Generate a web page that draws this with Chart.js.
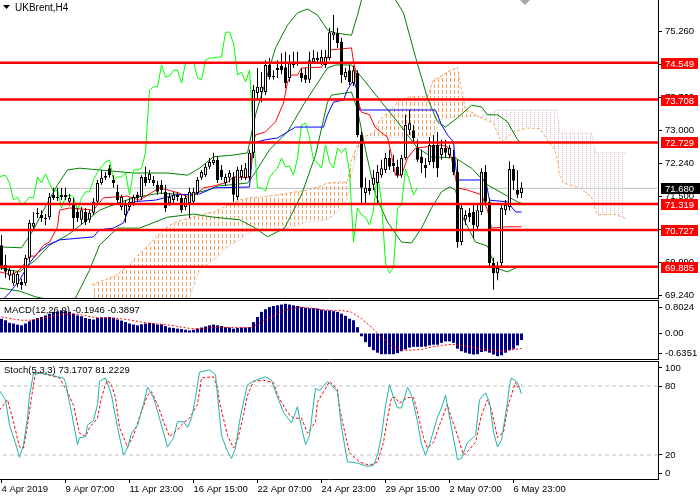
<!DOCTYPE html>
<html>
<head>
<meta charset="utf-8">
<title>UKBrent, H4</title>
<script src="https://cdn.jsdelivr.net/npm/chart.js@4.4.1/dist/chart.umd.min.js"></script>
<style>
  html, body { margin: 0; padding: 0; background: #fff; }
  #board { position: relative; width: 700px; height: 500px; overflow: hidden; background: #fff; }
  #board canvas { position: absolute; left: 0; }
</style>
</head>
<body>
<div id="board">
  <canvas id="priceChart" width="700" height="300" style="top:0"></canvas>
  <canvas id="macdChart" width="700" height="61" style="top:300px"></canvas>
  <canvas id="stochChart" width="700" height="139" style="top:361px"></canvas>
</div>
<script>
// ---- data (bar index 0 = first visible candle) ----
const symbolTitle = 'UKBrent,H4';

const opens = [70.38, 69.93, 69.68, 69.51, 69.49, 69.54, 69.51, 70.09, 70.80, 71.12,
  71.07, 71.00, 71.02, 71.53, 71.48, 71.53, 71.53, 71.37, 71.30, 71.14,
  70.96, 71.14, 70.96, 71.12, 71.37, 71.80, 71.92, 72.14, 71.87, 71.60,
  71.25, 71.07, 71.25, 71.34, 71.53, 71.48, 71.94, 71.87, 71.87, 71.76,
  71.76, 71.60, 71.34, 71.41, 71.53, 71.46, 71.25, 71.34, 71.37, 71.57,
  71.92, 71.98, 72.17, 72.26, 72.33, 72.10, 71.80, 71.92, 71.94, 71.48,
  71.94, 71.92, 71.94, 72.49, 73.86, 73.88, 73.88, 74.50, 74.22, 74.43,
  74.48, 74.45, 74.20, 74.50, 74.54, 74.32, 74.27, 74.16, 74.57, 74.61,
  74.54, 74.50, 74.66, 75.18, 75.23, 75.03, 74.22, 74.38, 74.09, 74.32,
  72.90, 71.57, 71.69, 71.76, 71.80, 71.98, 72.10, 72.37, 72.26, 72.17,
  71.98, 72.37, 73.01, 73.01, 72.60, 72.40, 72.21, 72.28, 72.67, 72.67,
  72.44, 72.60, 72.44, 72.40, 72.05, 70.45, 70.96, 71.12, 71.14, 70.80,
  71.14, 72.05, 71.37, 69.97, 69.74, 69.97, 71.18, 71.25, 72.12, 71.64,
  71.57];
const highs = [70.61, 70.16, 69.90, 69.81, 69.77, 69.61, 70.16, 70.96, 71.14, 71.23,
  71.18, 71.09, 71.57, 71.69, 71.69, 71.69, 71.69, 71.55, 71.46, 71.23,
  71.25, 71.23, 71.18, 71.46, 71.87, 72.10, 72.05, 72.21, 71.98, 71.76,
  71.53, 71.41, 71.46, 71.53, 71.60, 71.98, 72.17, 72.10, 71.96, 71.85,
  71.87, 71.76, 71.57, 71.60, 71.60, 71.53, 71.53, 71.69, 71.69, 71.94,
  72.10, 72.24, 72.37, 72.49, 72.42, 72.21, 72.01, 72.10, 72.05, 72.17,
  72.21, 72.26, 72.56, 74.04, 74.43, 74.34, 74.61, 74.66, 74.38, 74.61,
  74.77, 74.80, 74.73, 74.80, 74.80, 74.43, 74.43, 74.80, 74.84, 74.80,
  74.84, 74.84, 75.35, 75.64, 75.35, 75.12, 74.43, 74.50, 74.48, 74.38,
  72.97, 71.92, 71.87, 72.10, 72.21, 72.33, 72.49, 72.56, 72.44, 72.33,
  72.44, 73.36, 73.47, 73.13, 72.79, 72.56, 72.37, 72.85, 72.90, 72.97,
  72.79, 72.79, 72.67, 72.56, 72.33, 71.30, 71.18, 71.23, 71.30, 71.30,
  72.14, 72.21, 71.46, 70.09, 70.00, 71.30, 71.41, 72.30, 72.21, 72.10,
  71.82];
const lows = [69.81, 69.63, 69.58, 69.45, 69.42, 69.36, 69.45, 70.00, 70.73, 71.00,
  70.91, 70.84, 70.96, 71.41, 71.39, 71.41, 71.41, 71.28, 70.73, 70.91,
  70.86, 70.84, 70.89, 71.07, 71.30, 71.76, 71.87, 71.92, 71.69, 71.34,
  71.18, 70.89, 71.18, 71.28, 71.37, 71.41, 71.73, 71.80, 71.73, 71.53,
  71.55, 71.14, 71.28, 71.32, 71.39, 71.12, 71.18, 71.00, 71.30, 71.53,
  71.87, 71.94, 72.12, 72.21, 71.80, 71.87, 71.73, 71.82, 71.37, 71.41,
  71.87, 71.87, 71.87, 72.37, 73.70, 73.65, 73.81, 74.16, 74.16, 74.20,
  74.29, 73.97, 74.11, 74.43, 74.48, 74.11, 74.09, 74.09, 74.52, 74.57,
  74.50, 74.43, 74.61, 75.07, 74.89, 74.09, 74.16, 74.04, 74.02, 72.85,
  71.34, 71.34, 71.53, 71.64, 71.30, 71.92, 72.03, 72.10, 72.05, 71.92,
  71.92, 72.33, 72.90, 72.74, 72.28, 72.03, 71.92, 72.21, 72.14, 71.94,
  72.33, 72.37, 72.37, 71.98, 70.32, 70.38, 70.84, 70.91, 70.54, 70.73,
  71.07, 71.28, 69.86, 69.36, 69.58, 69.90, 71.07, 71.18, 71.64, 71.46,
  71.46];
const closes = [69.88, 69.77, 69.81, 69.74, 69.72, 69.47, 70.09, 70.89, 70.89, 71.09,
  71.00, 70.98, 71.48, 71.46, 71.46, 71.48, 71.48, 71.46, 71.00, 71.00,
  71.18, 70.91, 71.12, 71.37, 71.80, 71.92, 71.96, 71.98, 71.80, 71.41,
  71.48, 71.30, 71.37, 71.48, 71.46, 71.94, 71.80, 72.01, 71.80, 71.60,
  71.64, 71.23, 71.48, 71.53, 71.48, 71.18, 71.46, 71.60, 71.60, 71.87,
  72.05, 72.17, 72.28, 72.33, 71.87, 71.94, 71.94, 72.03, 71.53, 72.10,
  72.10, 72.14, 72.49, 73.93, 74.00, 74.00, 74.50, 74.22, 74.25, 74.38,
  74.38, 74.09, 74.54, 74.54, 74.57, 74.20, 74.16, 74.61, 74.66, 74.66,
  74.68, 74.68, 75.25, 75.25, 75.00, 74.27, 74.34, 74.11, 74.38, 72.90,
  71.69, 71.69, 71.62, 71.92, 72.05, 72.14, 72.37, 72.17, 72.19, 71.98,
  72.37, 73.13, 73.17, 72.83, 72.33, 72.26, 72.14, 72.67, 72.28, 72.14,
  72.60, 72.49, 72.60, 72.05, 70.45, 71.23, 71.07, 71.02, 70.84, 71.18,
  72.05, 71.37, 69.97, 69.74, 69.86, 71.23, 71.30, 72.12, 71.85, 71.53,
  71.69];

// Bollinger bands, [bar, price]
const bbUpper = [[-0.5, 70.34], [5, 70.32], [8, 70.73], [10.5, 71.18], [14, 71.76], [16.5, 72.10], [19.5, 72.14],
  [24.5, 72.10], [33, 72.03], [41.5, 72.03], [46.5, 71.98], [49.5, 72.14], [53, 72.40], [58, 72.44], [61.5, 72.49],
  [63.5, 73.36], [68.5, 74.89], [71.5, 75.41], [74, 75.69], [76.5, 75.78], [79, 75.64], [81.5, 75.30], [83.5, 75.23],
  [87.5, 75.18], [89, 75.64], [90, 75.99], [94, 76.60], [98.5, 75.99], [100.5, 75.69], [103.5, 74.68], [106.5, 73.74],
  [109, 73.20], [111, 73.08], [114, 73.29], [117.5, 73.58], [120, 73.54], [121.5, 73.36], [124, 73.36], [126.5, 73.20],
  [129, 72.79], [130, 72.72]];
const bbMiddle = [[-0.5, 69.86], [4.5, 69.77], [8.5, 70.04], [12, 70.38], [16.5, 70.61], [20.5, 70.89], [24.5, 71.18],
  [29, 71.34], [33, 71.46], [39.5, 71.57], [46.5, 71.53], [51.5, 71.64], [54, 71.73], [61.5, 71.80], [63.5, 72.05],
  [67, 72.56], [71.5, 72.97], [75.75, 73.63], [81.5, 74.43], [83.5, 74.50], [87.5, 74.50], [91, 74.11], [95, 73.65],
  [99, 73.20], [104, 72.60], [107.5, 72.40], [113.5, 72.37], [117.5, 72.14], [121.5, 71.76], [129, 71.37], [130, 71.34]];
const bbLower = [[-0.5, 69.40], [4.5, 69.33], [8.5, 69.20], [13.5, 69.10], [18.5, 69.17], [22, 69.81], [24.5, 70.38],
  [29, 70.77], [34.5, 70.77], [41.5, 71.02], [48, 71.09], [53, 71.02], [59.5, 70.96], [63.5, 70.77], [66.5, 70.57],
  [70.75, 70.77], [75, 71.53], [78.5, 72.44], [81.5, 73.65], [82.5, 73.81], [87.5, 73.88], [89, 73.47], [91, 72.56],
  [93.5, 71.53], [96.5, 70.91], [100, 70.45], [102.5, 70.43], [105, 70.77], [107.5, 71.23], [110, 71.60], [112, 71.71],
  [113.5, 71.64], [115, 71.07], [118.5, 70.45], [121.5, 70.36], [123.5, 69.86], [126.5, 69.77], [129, 69.88], [130, 69.90]];

// Ichimoku lines, [bar, price]
const tenkan = [[-0.5, 69.77], [2.5, 69.70], [4.5, 69.81], [6, 69.99], [7, 70.13], [8.5, 70.13], [10.5, 70.38], [12, 70.45],
  [14, 70.80], [14.5, 71.18], [17, 71.23], [23, 71.18], [24, 71.30], [25.5, 71.46], [28, 71.48], [31.5, 71.50], [34.5, 71.41],
  [39.5, 71.69], [44.5, 71.57], [46.5, 71.48], [49, 71.57], [50.5, 71.69], [53, 71.73], [56.5, 71.82], [58, 71.94], [62, 71.92],
  [63, 72.75], [63.5, 72.90], [66, 72.97], [68.5, 73.20], [70.5, 73.63], [71.5, 74.11], [72.5, 74.27], [74, 74.27], [75, 74.43],
  [80, 74.45], [81.5, 74.66], [82, 74.84], [87.5, 74.89], [88, 74.57], [88.5, 74.38], [89, 73.70], [90, 73.42], [92, 73.36],
  [93.5, 73.06], [96.5, 72.85], [97.5, 72.44], [98.5, 71.98], [100, 71.98], [101.5, 72.37], [103.5, 72.60], [106.5, 72.63],
  [110, 72.67], [111.5, 72.63], [112.5, 72.37], [114, 71.69], [116.5, 71.64], [120, 71.53], [121.5, 71.18], [122.5, 70.77],
  [126.5, 70.80], [130, 70.80]];
const kijun = [[-0.5, 69.05], [2, 69.29], [4.5, 69.58], [7, 69.97], [9, 70.20], [11.5, 70.38], [14.5, 70.50], [23, 70.57],
  [24.5, 70.73], [28, 70.77], [30.5, 70.89], [32.5, 71.37], [38.5, 71.41], [43.5, 71.53], [49.5, 71.55], [53, 71.69],
  [62, 71.71], [63, 72.72], [66, 72.79], [69, 72.83], [73.5, 73.08], [80.5, 73.08], [81.5, 73.36], [83, 73.65], [85.5, 73.70],
  [86.5, 73.93], [88, 74.16], [89, 73.88], [89.5, 73.47], [108.5, 73.47], [110, 73.13], [111.5, 72.90], [113, 72.74],
  [113.5, 72.21], [114, 71.87], [121, 71.87], [122, 71.41], [126.5, 71.37], [128.5, 71.14], [130, 71.14]];
const chikouShift = 26;

// Kumo: span A / span B sampled at the same bars
const cloudBars = [22.5, 24.5, 28.5, 31, 33.5, 36, 38.5, 41, 43.5, 47, 49.5, 53, 56.5, 59.5, 62, 65.5, 71.5, 76.5, 79, 81.5,
  84.5, 86.5, 87.5, 89, 90.5, 93, 94.5, 98, 99.5, 102, 106.5, 108, 109.5, 111.5, 114, 114.5, 115.5, 116, 118, 119.5,
  123, 124, 125, 126.5, 128, 131.5, 134.5, 136.5, 138, 139, 139.5, 140.5, 144.5, 147.5, 148.5, 149, 153, 156];
const spanA = [69.47, 69.54, 69.68, 69.86, 70.09, 70.32, 70.54, 70.77, 70.91, 71.00, 71.07, 71.14, 71.28, 71.41, 71.46,
  71.48, 71.57, 71.64, 71.71, 71.80, 71.82, 71.82, 72.33, 72.67, 72.85, 72.94, 73.24, 73.54, 73.70, 73.77, 73.77, 74.16,
  74.22, 74.34, 74.45, 74.16, 73.70, 73.47, 73.40, 73.31, 73.17, 72.94, 72.74, 72.85, 72.97, 73.06, 73.04, 72.79, 72.63,
  72.33, 71.98, 71.80, 71.69, 71.48, 71.18, 71.07, 71.09, 71.00];
const spanB = [69.01, 68.90, 68.78, 68.71, 68.71, 68.71, 68.78, 68.90, 69.01, 69.17, 69.81, 70.04, 70.34, 70.50, 70.68,
  70.73, 70.77, 70.91, 70.93, 70.96, 71.18, 71.46, 71.98, 72.56, 72.79, 72.85, 72.85, 72.85, 72.85, 72.85, 72.85, 72.85,
  73.24, 73.29, 73.31, 73.31, 73.31, 73.31, 73.33, 73.31, 73.42, 73.47, 73.47, 73.47, 73.47, 73.47, 73.47, 73.47, 73.47,
  73.47, 72.94, 72.94, 72.94, 72.94, 72.49, 72.49, 72.49, 72.49];

// horizontal levels and current price
const levels = [74.549, 73.708, 72.729, 71.319, 70.727, 69.885];
const lastPrice = 71.680;
const priceTicks = [75.26, 74.52, 73.76, 73.00, 72.24, 71.50, 70.74, 69.99, 69.24];

// MACD(12,26,9)
const macdHist = [0.39, 0.35, 0.28, 0.26, 0.23, 0.21, 0.26, 0.32, 0.37, 0.41,
  0.44, 0.48, 0.53, 0.58, 0.59, 0.62, 0.60, 0.58, 0.53, 0.48,
  0.46, 0.41, 0.39, 0.37, 0.41, 0.43, 0.43, 0.44, 0.42, 0.37,
  0.34, 0.30, 0.26, 0.23, 0.21, 0.24, 0.26, 0.28, 0.26, 0.23,
  0.24, 0.19, 0.15, 0.14, 0.12, 0.11, 0.09, 0.07, 0.09, 0.12,
  0.15, 0.18, 0.21, 0.23, 0.21, 0.19, 0.16, 0.15, 0.12, 0.14,
  0.15, 0.15, 0.16, 0.30, 0.44, 0.58, 0.65, 0.71, 0.74, 0.76,
  0.78, 0.80, 0.78, 0.76, 0.74, 0.71, 0.69, 0.68, 0.68, 0.67,
  0.64, 0.62, 0.62, 0.60, 0.58, 0.53, 0.47, 0.39, 0.35, 0.16,
  -0.09, -0.25, -0.38, -0.47, -0.54, -0.58, -0.58, -0.58, -0.58, -0.55,
  -0.50, -0.45, -0.40, -0.38, -0.38, -0.38, -0.37, -0.34, -0.32, -0.32,
  -0.27, -0.23, -0.23, -0.27, -0.43, -0.50, -0.54, -0.57, -0.59, -0.58,
  -0.52, -0.50, -0.54, -0.59, -0.635, -0.61, -0.54, -0.47, -0.43, -0.34,
  -0.19];
const macdSignal = [[0, 0.44], [2.5, 0.39], [5, 0.35], [7.5, 0.35], [10, 0.39], [12.5, 0.46], [15, 0.51], [17.5, 0.53],
  [20, 0.50], [22.5, 0.44], [25, 0.41], [27.5, 0.41], [30, 0.39], [32.5, 0.35], [35, 0.30], [37.5, 0.26], [40, 0.24],
  [42.5, 0.21], [45, 0.16], [47.5, 0.12], [50, 0.12], [52.5, 0.15], [55, 0.16], [57.5, 0.15], [60, 0.15], [62.5, 0.15],
  [65, 0.30], [67.5, 0.44], [70, 0.59], [72.5, 0.68], [75, 0.71], [77.5, 0.68], [80, 0.64], [82.5, 0.62], [85, 0.62],
  [87.5, 0.57], [90, 0.39], [92.5, 0.16], [95, -0.11], [97.5, -0.34], [100, -0.47], [102.5, -0.47], [105, -0.45],
  [107.5, -0.38], [110, -0.34], [112.5, -0.31], [115, -0.34], [117.5, -0.38], [120, -0.45], [122.5, -0.47], [125, -0.50],
  [127.5, -0.46], [130, -0.42]];
const macdTickValues = [0.693, 0, -0.548];
const macdTickText = ['0.8024', '0.00', '-0.6351'];
const macdTitle = 'MACD(12,26,9) -0.1946 -0.3897';

// Stochastic(5,3,3)
const stochK = [[-0.5, 76], [1, 68], [2, 46], [3.5, 30], [4.5, 18], [5.5, 29], [6.5, 52], [7, 72], [8, 91], [9.5, 91],
  [12, 90], [14, 88], [15.5, 87], [16, 83], [17.5, 57], [19, 29], [19.5, 35], [21, 36], [21.5, 46], [23, 50], [24, 64],
  [24.5, 84], [26, 87], [27, 77], [27.5, 72], [29, 44], [30.5, 20], [31.5, 26], [32.5, 39], [34, 46], [35.5, 64], [36.5, 79],
  [38, 70], [39.5, 52], [41.5, 27], [43, 35], [44, 49], [45.5, 49], [46.5, 44], [47.5, 52], [48.5, 70], [49.5, 92], [52, 94],
  [53.5, 90], [54, 72], [55, 37], [56.5, 23], [57.5, 17], [58.5, 26], [59.5, 49], [60.5, 66], [61.5, 81], [63.5, 85],
  [66, 88], [67.5, 85], [68.5, 75], [70.5, 57], [72.5, 48], [74, 62], [74.5, 52], [76, 29], [77, 37], [78.5, 78], [79.5, 76],
  [81.5, 84], [83, 79], [84, 75], [85, 44], [86.5, 14], [89, 13], [91.5, 10], [93, 11], [94, 20], [95, 37], [96, 63],
  [97, 81], [98, 70], [99, 61], [100, 61], [101.5, 79], [102.5, 72], [104, 49], [105, 29], [106, 20], [107, 29], [109, 53],
  [110, 61], [111, 72], [112, 53], [114, 16], [115, 17], [116.5, 31], [118.5, 37], [119.5, 68], [121, 74], [122, 66],
  [123, 40], [124, 27], [125, 33], [126.5, 66], [127, 81], [127.5, 87], [129, 83], [130, 73.2]];
const stochD = [[-0.5, 59], [1.5, 68], [3, 49], [4.5, 27], [5.5, 26], [6.5, 46], [7.5, 70], [8, 81], [8.5, 91], [9, 92],
  [14.5, 87], [16, 78], [16.5, 75], [18, 63], [19.5, 39], [21, 36], [22, 44], [24, 52], [25, 70], [26, 81], [26.5, 85],
  [27.5, 81], [28.5, 70], [29.5, 44], [31.5, 27], [33, 37], [34.5, 53], [36.5, 72], [37.5, 75], [39, 64], [40.5, 49],
  [42, 36], [44, 42], [45.5, 48], [47, 52], [49, 64], [49.5, 75], [50, 87], [53, 88], [54, 79], [54.5, 66], [56.5, 37],
  [58, 26], [59, 33], [60.5, 55], [61.5, 72], [63, 84], [65.5, 85], [68, 83], [69, 72], [71.5, 57], [73, 52], [75, 52],
  [76.5, 39], [78.5, 49], [79, 66], [80.5, 75], [82, 84], [84, 77], [84.5, 61], [86, 37], [87, 22], [89.5, 14], [92, 11],
  [94, 14], [95.5, 31], [96.5, 52], [97.5, 70], [98.5, 70], [99.5, 65], [101.5, 70], [103, 70], [104, 57], [105.5, 35],
  [106.5, 26], [108, 31], [109.5, 46], [111.5, 64], [112.5, 52], [114, 37], [115.5, 20], [116.5, 23], [118.5, 31],
  [120, 55], [121.5, 68], [122.5, 59], [124, 35], [125.5, 40], [126.5, 61], [128, 78], [128.5, 83], [129, 79], [130, 81.2]];
const stochLevels = [80, 20];
const stochTickValues = [95.7, 80, 20, 4.3];
const stochTickText = ['100', '80', '20', '0'];
const stochTitle = 'Stoch(5,3,3) 73.1707 81.2229';

const timeTickBars = [0, 16, 32, 48, 64, 80, 96, 112, 128];
const timeLabels = ['4 Apr 2019', '9 Apr 07:00', '11 Apr 23:00', '16 Apr 15:00', '22 Apr 07:00',
  '24 Apr 23:00', '29 Apr 15:00', '2 May 07:00', '6 May 23:00'];

// ---- setup ----
const FONT = '"Liberation Sans", Arial, sans-serif';
Chart.defaults.font.family = FONT;
Chart.defaults.font.size = 9.5;
Chart.defaults.color = '#000';
Chart.defaults.elements.point.radius = 0;
Chart.defaults.elements.line.borderWidth = 1;

const X_MIN = -0.375, X_MAX = 164.125; // 4 px per bar

const pts = arr => arr.map(([x, y]) => ({ x, y }));
const flat = v => [{ x: X_MIN - 1, y: v }, { x: X_MAX + 1, y: v }];

// vertical hatch tile used for the kumo, one column every 4 px
function hatch(target, color, h, dash) {
  const tile = document.createElement('canvas');
  tile.width = 4;
  tile.height = h;
  const g = tile.getContext('2d');
  g.fillStyle = color;
  g.fillRect(2, 0, 1, dash);
  return target.createPattern(tile, 'repeat');
}

function hiddenX() {
  return { type: 'linear', min: X_MIN, max: X_MAX, display: false, offset: false };
}

function rightAxis(min, max, tickValues, tickText) {
  return {
    position: 'right', min: min, max: max, stacked: false,
    afterBuildTicks: s => { s.ticks = tickValues.map(v => ({ value: v })); },
    afterFit: s => { s.width = 42; s.paddingTop = 0; s.paddingBottom = 0; },
    ticks: { autoSkip: false, padding: 3, callback: (v, i) => tickText[i] },
    grid: { drawOnChartArea: false, tickLength: 4, color: '#000' },
    border: { display: true, color: '#000', width: 1 }
  };
}

function tag(ctx, text, yPix, fill, x0, w) {
  const top = Math.round(yPix) - 5;
  ctx.fillStyle = fill;
  ctx.fillRect(x0 + 3, top, w, 11);
  ctx.fillStyle = '#fff';
  ctx.textAlign = 'left';
  ctx.textBaseline = 'middle';
  ctx.fillText(text, x0 + 7, top + 6);
}

const priceDecor = {
  id: 'priceDecor',
  afterDraw(chart) {
    const { ctx, chartArea: area, scales: { y } } = chart;
    ctx.save();
    ctx.strokeStyle = '#000';
    ctx.lineWidth = 1;
    ctx.beginPath();
    ctx.moveTo(0, area.bottom + 0.5);
    ctx.lineTo(area.right + 1, area.bottom + 0.5);
    ctx.stroke();

    ctx.fillStyle = '#000';
    ctx.beginPath();
    ctx.moveTo(3, 5); ctx.lineTo(10, 5); ctx.lineTo(6.5, 9);
    ctx.closePath(); ctx.fill();
    ctx.font = '10px ' + FONT;
    ctx.textBaseline = 'middle';
    ctx.fillText(symbolTitle, 15, 8);

    // chart shift marker
    ctx.fillStyle = '#A8A8A8';
    ctx.beginPath();
    ctx.moveTo(520, 0); ctx.lineTo(530, 0); ctx.lineTo(525, 5);
    ctx.closePath(); ctx.fill();

    ctx.font = '9.5px ' + FONT;
    levels.forEach(v => tag(ctx, v.toFixed(3), y.getPixelForValue(v), '#FF0000', area.right, 37));
    tag(ctx, lastPrice.toFixed(3), y.getPixelForValue(lastPrice), '#000', area.right, 40);
    ctx.restore();
  }
};

const panelFrame = {
  id: 'panelFrame',
  afterDraw(chart, args, opts) {
    const { ctx, chartArea: area } = chart;
    ctx.save();
    ctx.strokeStyle = '#000';
    ctx.lineWidth = 1;
    ctx.beginPath();
    ctx.moveTo(0, area.top - 0.5);
    ctx.lineTo(area.right + 1, area.top - 0.5);
    if (opts.bottom) {
      ctx.moveTo(0, area.bottom + 0.5);
      ctx.lineTo(area.right + 1, area.bottom + 0.5);
    }
    ctx.stroke();
    ctx.fillStyle = '#000';
    ctx.font = '9.5px ' + FONT;
    ctx.textBaseline = 'middle';
    ctx.fillText(opts.title, 4, area.top + opts.titleDy);
    ctx.restore();
  }
};

const commonOpts = {
  responsive: false,
  animation: false,
  events: [],
  plugins: { legend: { display: false }, tooltip: { enabled: false } }
};

const lineSet = (data, color, order, extra) => Object.assign({
  type: 'line', data: data, borderColor: color, borderWidth: 1, pointRadius: 0, fill: false, order: order
}, extra || {});

// ---- price panel ----
const ctxPrice = document.getElementById('priceChart').getContext('2d');
const orangeHatch = hatch(ctxPrice, '#F4A460', 6, 4);
const thistleHatch = hatch(ctxPrice, '#D8BFD8', 2, 1);

new Chart(ctxPrice, {
  type: 'line',
  data: {
    datasets: [
      ...levels.map(v => lineSet(flat(v), '#FF0000', 0, { borderWidth: 2.5 })),
      {
        type: 'bar', order: 1, stack: 'candle',
        data: opens.map((o, i) => ({ x: i, y: [o, closes[i]] })),
        backgroundColor: c => closes[c.dataIndex] >= opens[c.dataIndex] ? '#FFFFFF' : '#000000',
        borderColor: '#000', borderWidth: 1, borderSkipped: false,
        barThickness: 3, minBarLength: 1, inflateAmount: 0
      },
      {
        type: 'bar', order: 2, stack: 'candle',
        data: lows.map((l, i) => ({ x: i, y: [l, highs[i]] })),
        backgroundColor: '#000', borderWidth: 0, barThickness: 1, inflateAmount: 0
      },
      lineSet(pts(tenkan), '#FF0000', 3),
      lineSet(pts(kijun), '#0000FF', 4),
      lineSet(closes.map((c, i) => ({ x: i - chikouShift, y: c })), '#00FF00', 5),
      lineSet(pts(bbUpper), '#008000', 6),
      lineSet(pts(bbMiddle), '#008000', 6),
      lineSet(pts(bbLower), '#008000', 6),
      lineSet(flat(lastPrice), '#C0C0C0', 7),
      lineSet(cloudBars.map((b, i) => ({ x: b, y: spanA[i] })), '#F4A460', 8, {
        borderDash: [3, 2],
        fill: { target: '+1', above: orangeHatch, below: thistleHatch }
      }),
      lineSet(cloudBars.map((b, i) => ({ x: b, y: spanB[i] })), '#D8BFD8', 9, { borderDash: [1, 1] })
    ]
  },
  options: Object.assign({}, commonOpts, {
    layout: { padding: { top: 0, bottom: 2, left: 0, right: 0 } },
    scales: {
      x: hiddenX(),
      y: rightAxis(69.172, 75.985, priceTicks, priceTicks.map(v => v.toFixed(3)))
    }
  }),
  plugins: [priceDecor]
});

// ---- MACD panel ----
new Chart(document.getElementById('macdChart'), {
  type: 'line',
  data: {
    datasets: [
      lineSet(pts(macdSignal), '#FF0000', 0, { borderDash: [2, 2] }),
      {
        type: 'bar', order: 1,
        data: macdHist.map((v, i) => ({ x: i, y: v })),
        backgroundColor: '#000080', borderWidth: 0, barThickness: 3, inflateAmount: 0
      }
    ]
  },
  options: Object.assign({}, commonOpts, {
    layout: { padding: { top: 1, bottom: 2, left: 0, right: 0 } },
    plugins: Object.assign({}, commonOpts.plugins, { panelFrame: { bottom: true, title: macdTitle, titleDy: 9 } }),
    scales: { x: hiddenX(), y: rightAxis(-0.712, 0.877, macdTickValues, macdTickText) }
  }),
  plugins: [panelFrame]
});

// ---- Stochastic panel ----
new Chart(document.getElementById('stochChart'), {
  type: 'line',
  data: {
    datasets: [
      lineSet(pts(stochK), '#20B2AA', 0),
      lineSet(pts(stochD), '#FF0000', 1, { borderDash: [3, 2] }),
      ...stochLevels.map(v => lineSet(flat(v), '#C0C0C0', 2, { borderDash: [4, 3] }))
    ]
  },
  options: Object.assign({}, commonOpts, {
    layout: { padding: { top: 1, bottom: 0, left: 0, right: 0 } },
    plugins: Object.assign({}, commonOpts.plugins, { panelFrame: { bottom: false, title: stochTitle, titleDy: 8.5 } }),
    scales: {
      x: {
        type: 'linear', min: X_MIN, max: X_MAX, offset: false, position: 'bottom',
        afterBuildTicks: s => { s.ticks = timeTickBars.map(v => ({ value: v })); },
        afterFit: s => { s.height = 21; s.paddingLeft = 0; s.paddingRight = 0; },
        ticks: { align: 'start', autoSkip: false, maxRotation: 0, minRotation: 0, padding: 1,
          callback: (v, i) => timeLabels[i] },
        grid: { drawOnChartArea: false, tickLength: 4, color: '#000' },
        border: { display: true, color: '#000' }
      },
      y: rightAxis(-0.87, 100.87, stochTickValues, stochTickText)
    }
  }),
  plugins: [panelFrame]
});
</script>
</body>
</html>
